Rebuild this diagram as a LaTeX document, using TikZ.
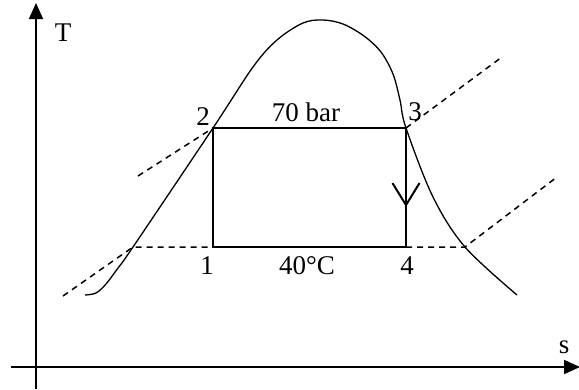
\documentclass[tikz,border=0pt]{standalone}
\usepackage{fontspec}
\setmainfont{Liberation Serif}
\usetikzlibrary{arrows.meta,positioning}

\begin{document}
\begin{tikzpicture}[
  x=1pt, y=-1pt,
  axis/.style={line width=1.8pt, -{Triangle[length=16pt, width=14pt]}},
  cyclepath/.style={line width=2pt},
  dome/.style={line width=1.3pt},
  isobar/.style={line width=1.5pt, dash pattern=on 6pt off 5pt},
  lbl/.style={font=\fontsize{27}{32}\selectfont, anchor=base, inner sep=0pt},
]
  \useasboundingbox (0,0) rectangle (579,389);

  % axes
  \coordinate (yfoot) at (36,389);
  \coordinate (ytip) at (36,3);
  \coordinate (xfoot) at (11,367);
  \coordinate (xtip) at (580,367);
  \draw[axis] (yfoot) -- (ytip);
  \draw[axis] (xfoot) -- (xtip);
  \node[lbl] (tlabel) at (63,41) {T};
  \node[lbl] (slabel) at (564,353) {s};

  % saturation dome
  \draw[dome] plot[smooth, tension=0.55] coordinates {
    (85,295) (96,293) (106,284) (118,268) (133,247) (213,128)
    (253,67) (277,40) (303,23) (323,20) (343,24) (364,36)
    (381,52) (393,74) (400,100) (406,128) (433,197) (465,247)
    (517,295)};

  % cycle states
  \coordinate (s1) at (213,247);
  \coordinate (s2) at (213,128);
  \coordinate (s3) at (406,128);
  \coordinate (s4) at (406,247);
  \coordinate (mid) at (406,207);
  \draw[cyclepath] (s1) -- (s2) -- (s3) -- (s4) -- cycle;
  \draw[cyclepath, -{Straight Barb[length=22pt, width=27pt]}] (s3) -- (mid);

  % isobars
  \coordinate (sl) at (133,247);
  \coordinate (sv) at (465,247);
  \coordinate (lowl) at (63,296);
  \coordinate (lowr) at (557,177);
  \coordinate (highl) at (138,176);
  \coordinate (highr) at (502,57);
  \draw[isobar] (lowl) -- (sl) -- (s1);
  \draw[isobar] (s4) -- (sv) -- (lowr);
  \draw[isobar] (highl) -- (s2);
  \draw[isobar] (s3) -- (highr);

  % labels
  \node[lbl] (l1) at (207,274) {1};
  \node[lbl] (l2) at (203,125) {2};
  \node[lbl] (l3) at (415,120) {3};
  \node[lbl] (l4) at (407,274) {4};
  \node[lbl] (phigh) at (306,121) {70 bar};
  \node[lbl] (tlow) at (307,274) {40°C};
\end{tikzpicture}
\end{document}
